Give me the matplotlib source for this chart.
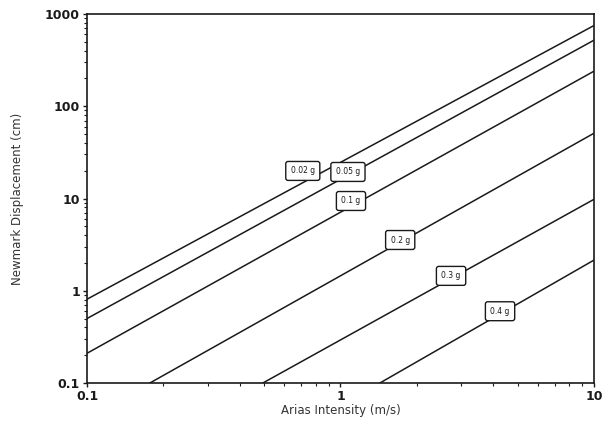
import matplotlib
matplotlib.use('Agg')
import matplotlib.pyplot as plt

# aceleracao critica de cada linha e os pontos extremos
acel = ['0.02 g', '0.05 g', '0.1 g', '0.2 g', '0.3 g', '0.4 g']
x_ini = [0.1, 0.1, 0.1, 0.177, 0.494, 1.43]
y_ini = [0.81, 0.50, 0.21, 0.1, 0.1, 0.1]
x_fim = [10, 10, 10, 10, 10, 10]
y_fim = [750, 520, 240, 51, 9.8, 2.15]

# posicao das etiquetas (caixinhas) sobre as linhas
lab_x = [0.71, 1.07, 1.10, 1.72, 2.73, 4.26]
lab_y = [19.9, 19.4, 9.4, 3.55, 1.45, 0.60]

fig = plt.figure(figsize=(6.14, 4.28), dpi=100)
ax = fig.add_axes([0.1417, 0.1051, 0.8257, 0.8622])

cor = '#1a1a1a'
for i in range(len(acel)):
    ax.plot([x_ini[i], x_fim[i]], [y_ini[i], y_fim[i]], color=cor, lw=1.1)
    ax.text(lab_x[i], lab_y[i], acel[i], fontsize=5.5, ha='center', va='center',
            color=cor, zorder=5,
            bbox=dict(boxstyle='round,pad=0.65,rounding_size=0.3', fc='white',
                      ec=cor, lw=1.0))

ax.set_xscale('log')
ax.set_yscale('log')
ax.set_xlim(0.1, 10)
ax.set_ylim(0.1, 1000)
ax.set_xticks([0.1, 1, 10])
ax.set_xticklabels(['0.1', '1', '10'])
ax.set_yticks([0.1, 1, 10, 100, 1000])
ax.set_yticklabels(['0.1', '1', '10', '100', '1000'])

ax.tick_params(which='major', direction='out', length=3, width=1, colors=cor,
               labelsize=9, pad=2)
ax.tick_params(which='minor', direction='out', length=2, width=0.8, colors=cor)
for lbl in ax.get_xticklabels() + ax.get_yticklabels():
    lbl.set_fontweight('bold')
for s in ax.spines.values():
    s.set_color(cor)
    s.set_linewidth(1.2)

ax.set_xlabel('Arias Intensity (m/s)', fontsize=8.5, color='#333333', labelpad=1)
ax.set_ylabel('Newmark Displacement (cm)', fontsize=8.5, color='#333333', labelpad=15)

fig.savefig('out.png', dpi=100)
